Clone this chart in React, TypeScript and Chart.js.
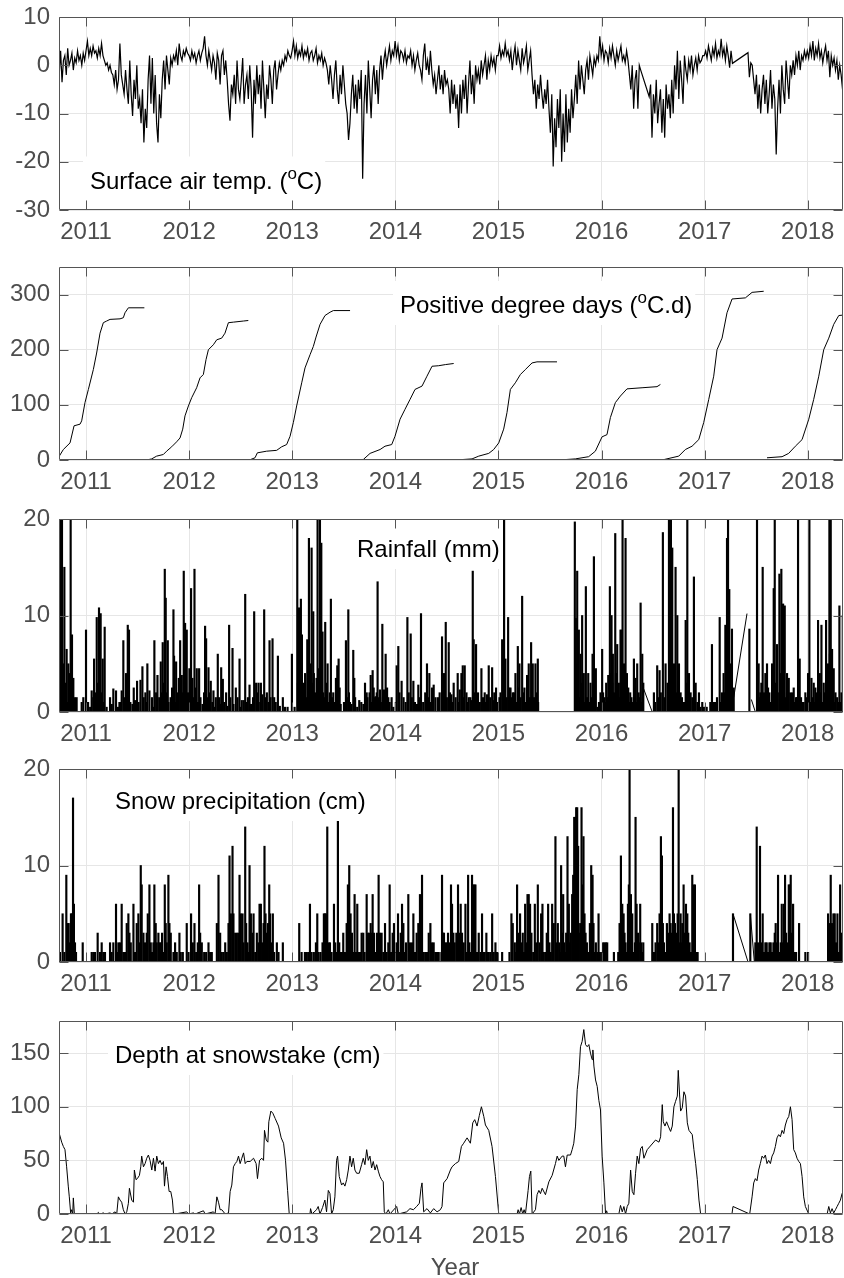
import React, { useEffect, useRef } from "react";
import { Chart, registerables } from "chart.js";

Chart.register(...registerables);

const FONT = '"Liberation Sans", Arial, Helvetica, sans-serif';

// ---------------- axes / ticks ----------------
const YEARS = [2011, 2012, 2013, 2014, 2015, 2016, 2017, 2018];
const X_MIN = 2010.738;
const X_MAX = 2018.342;
const TEMP_TICKS = [-30, -20, -10, 0, 10];
const PDD_TICKS = [0, 100, 200, 300];
const RAIN_TICKS = [0, 10, 20];
const SNOW_TICKS = [0, 10, 20];
const DEPTH_TICKS = [0, 50, 100, 150];

// ---------------- surface air temperature (5-day samples from 2010.740) ----------------
const TEMP_START = 2010.74;
const TEMP_STEP_DAYS = 5;
const temp2010 = [-2, 3, -3.5, 1, 2, -2, 3.5, 0, 1, 2.5, -1, 1.5, 0.5, 3, 1, 2, 0, 2.5, 1];
const temp2011 = [3, 5, 2, 3.5, 2, 4, 2.5, 3, 1.5, 3.5, 2, 4.5,
  2, 1, 0, 0.5, -1, 0, -1.5,
  -2, -4, -1, -5, -3, 4.5, -2, -4, -6, -1,
  -5, -8, 1, -6, -10.5, -3, -7, 0, -9,
  -7, -12, -5, -16, -9, -13,
  -3, 2, -8, 1.5, -10, -2,
  -12, -16, -6, -11,
  -3, 1, -5, 2, -1, -4, 1.5, 0, 2,
  1, 3, 0, 4.5, 2, 1, 3, 2, 3.5, 2.5];
const temp2012 = [2, 1, 3, 1.5, 2.5, 0.5, 2, 3, 1, 2.5, 3.5, 6,
  2, 0, 3, 1, -1, 2, 0.5, -3, 2.5, 1, -4, 2, 3, -2, 1,
  -3, -8, -11.5, -4,
  -6, -2, -8, 1, -5, -7, -3, 1.5, -8, -4, -2, -7, 0, -5,
  -15,
  -3, -8, 0, -6, -2, -9, 1, -5, -11,
  -4, -7, 0, -3, -8, -1, 1, -5, -2, 0.5, -1, 1, 0,
  2, 1, 3, 2, 1.5];
const temp2013 = [3, 5, 2, 4, 1.5, 3,
  2, 4, 1.5, 3, 2, 3.5, 1, 2.5, 3, 1, 2, 3.5, 0.5, 2, 1, 2.5, 0, 1.5, 0.5,
  -1, -4, 0, -3, -7, -2, 1, -5, -8, -2, -6, 0, -4, -8,
  -10, -15.5, -12, -6,
  -2, -9, -4, -10, -3, -7, -1,
  -23.5,
  -8, -2, -10, 1, -5, -11, -3, 0, -6, -1, -8,
  -1, 2, -3, 1, 3, 0, 2, 4, 1, 3, 2];
const temp2014 = [5, 2, 4, 1, 3, 2.5, 1, 3, 0.5, 2, 1.5, 3, 0, 2, -1, 1, 2.5, 0, -1,
  -3, 2, 4.5, -1, 1, -2, 3,
  -1, -4, -2, -6, -3, 0, -5, -2, -6, -1, -4, -3,
  -5, -10, -3, -8, -4, -9, -6, -13, -4, -10, -3, -7,
  -2, -10, -4, 1, -6, -2, -8, 0, -3,
  -1, -4, 1, -2, 0, 2, -3, 1, -1, 2, 0, 1.5, -1, 2];
const temp2015 = [2, 4, 1.5, 3, 2, 4.5, 2, 3, 1,
  3, -1, 2, 4, 0, 3, 1, -1, 3.5, 0.5, 2, 4, -1, 1, 3,
  -2, -6, -3, -9, -4, -7, -2,
  -6, -9, -5, -8, -3,
  -9, -14, -6, -21, -11, -17, -7, -13, -5, -20,
  -10, -18,
  -6, -16, -9, -14, -5, -11, -7,
  -2, -8, 1, -5, 0, -3, -6,
  -1, 1, -3, 2, 0, -2, 1.5, 0, 2, 1, 6];
const temp2016 = [2, 4, 1, 3, 2.5, 0.5, 3.5, 1.5, 4, 2, 0, 3, 1, 2.5, 4, 1, 2, 0.5, 3, 1,
  -2, -5, 0, -9, -3, -1, -9, 0, -1,
  null, null, null, null, null, -6.5,
  -4, -15, -6, -10, -3, -12, -8, -5, -14, -7, -15, -4, -9, -6, -11, -3,
  -10, 0, -5, 3, -7, 1, -3, -8, 2, -1,
  -3, 1, -1, 2, -2, 0, 1.5, -1, 2, 0.5, 1, 2];
const temp2017 = [2, 3, 1.5, 4, 2.5, 1, 3.5, 2, 4.5, 1.5, 3, 2, 5.5, 2, 3.5, 1, 4, 2, -0.5, 3,
  0.4, null, null, null, null, null, null, null, null, null, null, 2.6,
  -2.5, 0.5,
  0, -3, -6, -2, -9, -4, -10, -5, -2, -8, -3, -10, -6, -1, -9, -4, -7,
  -18.5,
  -9, -3, -10, 0, -5, -8, 1, -3, -7, 0, -2,
  1, -2, 2, 0, 3, -1, 2, 1, 3, 1.5];
const temp2018 = [3, 1.5, 4, 2, 5, 1, 3.5, 2, 4.5, 1.5, 3, 0.5, 2.5, 4, 1, 3, -2.5, 2, 0, 1.5,
  -1, 1, -3, 0, -2, -5];

// ---------------- positive degree days ([decimal year, °C.d]) ----------------
const pdd2011 = [[2010.741, 7], [2010.78, 19], [2010.845, 31], [2010.884, 62], [2010.942, 65], [2010.958, 71], [2010.99, 104], [2011.023, 128], [2011.071, 164], [2011.103, 194], [2011.136, 230], [2011.168, 249], [2011.2, 252], [2011.233, 255], [2011.33, 256], [2011.362, 258], [2011.378, 267], [2011.411, 276], [2011.566, 276]];
const pdd2012 = [[2011.588, 0], [2011.637, 2], [2011.685, 7], [2011.75, 10], [2011.782, 16], [2011.831, 24], [2011.879, 33], [2011.912, 40], [2011.938, 56], [2011.96, 80], [2011.993, 98], [2012.025, 113], [2012.073, 131], [2012.106, 149], [2012.138, 155], [2012.164, 182], [2012.187, 200], [2012.235, 209], [2012.268, 218], [2012.316, 221], [2012.348, 230], [2012.381, 249], [2012.429, 250], [2012.526, 252], [2012.574, 253]];
const pdd2013 = [[2012.584, 0], [2012.639, 4], [2012.662, 13], [2012.752, 16], [2012.849, 17.5], [2012.898, 24], [2012.946, 28], [2012.979, 43], [2013.011, 68], [2013.043, 98], [2013.092, 140], [2013.124, 167], [2013.173, 191], [2013.205, 206], [2013.231, 223], [2013.27, 246], [2013.318, 262], [2013.367, 268], [2013.399, 271], [2013.561, 271]];
const pdd2014 = [[2013.583, 0], [2013.69, 1], [2013.755, 12], [2013.852, 19], [2013.9, 25], [2013.965, 28], [2013.997, 43], [2014.046, 74], [2014.094, 92], [2014.143, 110], [2014.191, 128], [2014.259, 134], [2014.307, 152], [2014.356, 170], [2014.421, 171], [2014.485, 173], [2014.566, 175]];
const pdd2015 = [[2014.582, 0], [2014.744, 2], [2014.809, 7], [2014.906, 12], [2014.954, 19], [2015.003, 31], [2015.051, 56], [2015.083, 86], [2015.116, 128], [2015.164, 140], [2015.213, 155], [2015.261, 164], [2015.326, 176], [2015.374, 178], [2015.568, 178]];
const pdd2016 = [[2015.584, 0], [2015.746, 2], [2015.875, 6], [2015.94, 16], [2016.005, 42], [2016.053, 46], [2016.086, 77], [2016.134, 104], [2016.183, 116], [2016.247, 129], [2016.393, 131], [2016.538, 133], [2016.571, 137]];
const pdd2017 = [[2016.587, 0], [2016.749, 7], [2016.813, 19], [2016.878, 25], [2016.943, 37], [2016.991, 68], [2017.04, 110], [2017.088, 152], [2017.12, 200], [2017.169, 221], [2017.217, 267], [2017.266, 292], [2017.395, 294], [2017.46, 304], [2017.573, 306]];
const pdd2018 = [[2017.605, 4], [2017.751, 6], [2017.815, 12], [2017.88, 25], [2017.945, 37], [2018.01, 74], [2018.058, 110], [2018.107, 152], [2018.155, 200], [2018.204, 221], [2018.252, 246], [2018.301, 262], [2018.353, 263]];

// ---------------- rainfall ([fraction of year, mm]) ----------------
const rain2010 = [[0.754, 25], [0.767, 25], [0.79, 15], [0.812, 6.5], [0.828, 5], [0.851, 25], [0.864, 8], [0.877, 3.5], [0.893, 1.5], [0.909, 1.5], [0.958, 1], [0.974, 1.5], [0.76, 1], [0.78, 5], [0.8, 3], [0.82, 1], [0.84, 4], [0.87, 1]];
const rain2011 = [[0, 8.5], [0.055, 2.2], [0.078, 5.5], [0.104, 9.8], [0.126, 10.8], [0.142, 10.2], [0.162, 5.5], [0.181, 8.8], [0.233, 1.5], [0.265, 2.4], [0.291, 2.2], [0.324, 1], [0.346, 2.2], [0.362, 7.4], [0.388, 4], [0.405, 9], [0.417, 8.5], [0.463, 2.5], [0.476, 1.2], [0.495, 3.2], [0.528, 3.3], [0.547, 4.7], [0.576, 2], [0.595, 5], [0.615, 2.2], [0.663, 7.4], [0.693, 3.8], [0.725, 5.2], [0.744, 7.2], [0.764, 14.8], [0.773, 11.8], [0.793, 7.4], [0.848, 10.6], [0.854, 5.8], [0.874, 5.2], [0.913, 7.4], [0.929, 3.8], [0.948, 14.6], [0.961, 9.2], [0.977, 8.5],
  [0.02, 1], [0.04, 0.5], [0.07, 1.5], [0.09, 2], [0.115, 3], [0.135, 4], [0.15, 2], [0.17, 1], [0.2, 0.5], [0.25, 0.8], [0.31, 0.5], [0.335, 1], [0.375, 1.5], [0.395, 2], [0.43, 1], [0.45, 0.8], [0.51, 1], [0.56, 1.5], [0.585, 1], [0.64, 1.5], [0.65, 0.5], [0.68, 2], [0.71, 1.5], [0.735, 2], [0.755, 3], [0.785, 2], [0.8, 1], [0.82, 1.5], [0.835, 2.5], [0.865, 1], [0.89, 2], [0.9, 3.5], [0.92, 1.5], [0.94, 2], [0.955, 3], [0.97, 1.5], [0.99, 2]];
const rain2012 = [[0.003, 4.5], [0.019, 12.8], [0.032, 3.5], [0.052, 14.8], [0.074, 4.5], [0.097, 4.5], [0.155, 8.9], [0.165, 7.6], [0.188, 4.6], [0.21, 3.2], [0.236, 2.2], [0.259, 1.5], [0.278, 6], [0.311, 4.6], [0.327, 3.4], [0.359, 2], [0.388, 9], [0.421, 6.6], [0.453, 2.5], [0.489, 5.5], [0.511, 1.2], [0.544, 12.2], [0.56, 1], [0.586, 2.8], [0.631, 10.4], [0.65, 3], [0.673, 3], [0.696, 3], [0.728, 10.6], [0.754, 2], [0.78, 7.4], [0.809, 7.6], [0.825, 1.5], [0.861, 5.8], [0.909, 1.5], [0.955, 0.5], [0.997, 6],
  [0.01, 2], [0.04, 1.5], [0.06, 2.5], [0.085, 1], [0.11, 1.5], [0.13, 0.8], [0.145, 2], [0.175, 1.5], [0.2, 2], [0.225, 1], [0.25, 0.5], [0.29, 1.5], [0.3, 0.8], [0.34, 1], [0.37, 0.6], [0.4, 1.5], [0.43, 0.8], [0.47, 1.5], [0.5, 0.5], [0.53, 1.2], [0.57, 1.5], [0.6, 0.8], [0.62, 1.5], [0.66, 2], [0.69, 1], [0.71, 1.8], [0.74, 1.5], [0.77, 1], [0.79, 1.5], [0.84, 1], [0.88, 0.6], [0.93, 0.5]];
const rain2013 = [[0.023, 0.5], [0.049, 25], [0.065, 10.8], [0.084, 11.7], [0.094, 8], [0.113, 3], [0.146, 7.5], [0.162, 18], [0.188, 17], [0.204, 10.4], [0.22, 2], [0.236, 3.5], [0.246, 25], [0.259, 4.5], [0.269, 25], [0.282, 17.5], [0.294, 8.3], [0.32, 9.3], [0.343, 5], [0.375, 11.7], [0.398, 2], [0.424, 3.5], [0.437, 4.8], [0.45, 5.5], [0.46, 2.5], [0.502, 1], [0.521, 7.4], [0.544, 10.6], [0.56, 1], [0.592, 6.4], [0.602, 3.5], [0.65, 1.2], [0.706, 3], [0.722, 2], [0.761, 3.8], [0.78, 4.3], [0.809, 1.6], [0.828, 13.5], [0.851, 2.3], [0.874, 9.1], [0.89, 2.3], [0.906, 6], [0.932, 1.5], [0.964, 1.5],
  [0.055, 3], [0.075, 5], [0.105, 2], [0.125, 4], [0.135, 1.5], [0.155, 2], [0.175, 5], [0.195, 3], [0.21, 4], [0.23, 1], [0.25, 2], [0.265, 3], [0.275, 6], [0.3, 2], [0.31, 1.5], [0.33, 3], [0.355, 1], [0.365, 2], [0.385, 1.5], [0.41, 1], [0.445, 1.5], [0.47, 0.8], [0.53, 1.5], [0.55, 2], [0.575, 0.8], [0.61, 1.5], [0.63, 0.5], [0.67, 1], [0.69, 0.8], [0.73, 1.5], [0.75, 2], [0.77, 1], [0.79, 2.5], [0.8, 1.5], [0.82, 2], [0.84, 1.5], [0.86, 1], [0.88, 1.5], [0.9, 1.5], [0.92, 2.5], [0.945, 1], [0.98, 0.5]];
const rain2014 = [[0.013, 4.8], [0.029, 6.8], [0.061, 3.2], [0.117, 9.8], [0.149, 8.1], [0.175, 3.2], [0.223, 2.8], [0.249, 10.2], [0.307, 5], [0.33, 4], [0.356, 2.5], [0.372, 2.8], [0.414, 1.5], [0.453, 7.8], [0.472, 4], [0.489, 9.3], [0.518, 7.2], [0.544, 1.8], [0.566, 3], [0.605, 4], [0.625, 2.3], [0.641, 4], [0.654, 4.8], [0.673, 4.8], [0.712, 1.5], [0.728, 1.5], [0.751, 14.6], [0.76, 7.5], [0.783, 7], [0.802, 2], [0.835, 4.5], [0.867, 2], [0.906, 4.8], [0.939, 4.6], [0.955, 1.2], [0.977, 2.5],
  [0.005, 1], [0.04, 2], [0.08, 1.5], [0.1, 1], [0.13, 2], [0.16, 1.5], [0.19, 1], [0.21, 0.8], [0.24, 1.5], [0.27, 1], [0.29, 2], [0.32, 1.5], [0.345, 1], [0.39, 1.5], [0.43, 2], [0.46, 1], [0.5, 1.5], [0.53, 2], [0.555, 1], [0.585, 1.5], [0.615, 1], [0.66, 1.5], [0.69, 2], [0.7, 1], [0.74, 1.2], [0.77, 2], [0.79, 1.5], [0.82, 1], [0.85, 1.5], [0.88, 1], [0.89, 1.8], [0.92, 1.5], [0.96, 2], [0.99, 1]];
const rain2015 = [[0.01, 1.5], [0.036, 7.5], [0.055, 25], [0.068, 5.5], [0.094, 9.8], [0.117, 2.5], [0.139, 2], [0.165, 4], [0.188, 6.8], [0.204, 5], [0.23, 12], [0.252, 2.5], [0.278, 3.8], [0.294, 5], [0.317, 7.2], [0.333, 5], [0.359, 5], [0.382, 5.5],
  [0.741, 19.7], [0.751, 9.7], [0.764, 14.6], [0.78, 8.5], [0.796, 6], [0.812, 10], [0.828, 4], [0.848, 13], [0.871, 4], [0.893, 3], [0.913, 6], [0.926, 16.1], [0.945, 4.5], [0.99, 2],
  [0.02, 2], [0.045, 3], [0.06, 2], [0.08, 1.5], [0.105, 2.5], [0.125, 1.5], [0.15, 2], [0.175, 1], [0.195, 2.5], [0.215, 1.5], [0.24, 2], [0.265, 1], [0.285, 2], [0.305, 1.5], [0.325, 2.5], [0.345, 1.5], [0.37, 2], [0.385, 1],
  [0.745, 3], [0.755, 5], [0.77, 2], [0.79, 1.5], [0.805, 3], [0.82, 2], [0.835, 1], [0.86, 1.5], [0.88, 1], [0.9, 1.5], [0.935, 1], [0.96, 0.5], [0.975, 1]];
const rain2016 = [[0.006, 6.5], [0.029, 1.5], [0.045, 3], [0.065, 3.8], [0.081, 13], [0.097, 10], [0.11, 6], [0.133, 18.5], [0.152, 7], [0.168, 3], [0.184, 8.5], [0.194, 8.5], [0.204, 25], [0.217, 5], [0.233, 18], [0.246, 4], [0.259, 2.5], [0.278, 2], [0.314, 5.5], [0.33, 3.5], [0.346, 5], [0.369, 1.5], [0.379, 11.3], [0.395, 6], [0.405, 3],
  [0.508, 2], [0.54, 4.8], [0.563, 4.3], [0.595, 18.6], [0.621, 5], [0.654, 25], [0.663, 25], [0.673, 25], [0.686, 17], [0.702, 5], [0.718, 15], [0.735, 10], [0.751, 5], [0.767, 2], [0.816, 9.5], [0.832, 25], [0.848, 4], [0.864, 2], [0.896, 14], [0.913, 3], [0.945, 2], [0.977, 1],
  [0.015, 2], [0.04, 1], [0.055, 1.5], [0.075, 2], [0.09, 4], [0.105, 3], [0.12, 2], [0.14, 4], [0.16, 2], [0.175, 1.5], [0.19, 3], [0.21, 2], [0.225, 4], [0.24, 3], [0.27, 1], [0.29, 1.5], [0.3, 1], [0.32, 2], [0.34, 1], [0.36, 2], [0.385, 1], [0.4, 1.5],
  [0.52, 1], [0.55, 1.5], [0.575, 2], [0.61, 1.5], [0.64, 3], [0.66, 4], [0.68, 5], [0.695, 3], [0.71, 4], [0.725, 2], [0.745, 2], [0.76, 1], [0.78, 1.5], [0.8, 1], [0.825, 3], [0.84, 2], [0.855, 1], [0.88, 1.5], [0.905, 2], [0.93, 1], [0.96, 0.5], [0.99, 0.5]];
const rain2017 = [[0.006, 0.5], [0.055, 1], [0.071, 7], [0.104, 1], [0.146, 9.8], [0.168, 2], [0.184, 4], [0.201, 9], [0.217, 18], [0.227, 25], [0.239, 12.7], [0.249, 5], [0.265, 8.6], [0.282, 2.5], [0.434, 8.6],
  [0.508, 25], [0.524, 5], [0.54, 2], [0.563, 15], [0.589, 4], [0.605, 5], [0.628, 2], [0.654, 5], [0.67, 12.8], [0.68, 25], [0.702, 7], [0.725, 14.3], [0.744, 14.8], [0.761, 11.2], [0.777, 11], [0.799, 4], [0.816, 3.5], [0.848, 2], [0.864, 2.5], [0.887, 1.5], [0.906, 25], [0.922, 5.5], [0.945, 1], [0.977, 2],
  [0.02, 0.5], [0.09, 1], [0.12, 1.5], [0.155, 1], [0.175, 1.5], [0.19, 2], [0.21, 3], [0.235, 4], [0.255, 2], [0.27, 1.5], [0.515, 2], [0.53, 1.5], [0.55, 3], [0.575, 2], [0.595, 1.5], [0.615, 2.5], [0.64, 1], [0.66, 2], [0.69, 3], [0.71, 2], [0.735, 4], [0.75, 3], [0.77, 2], [0.79, 1.5], [0.81, 1], [0.83, 2], [0.87, 1], [0.895, 1.5], [0.915, 2], [0.935, 1.5], [0.96, 1], [0.99, 1.5]];
const rain2018 = [[0.003, 4], [0.016, 25], [0.036, 3.5], [0.058, 3], [0.074, 2.5], [0.1, 9.5], [0.117, 4], [0.133, 9], [0.155, 3], [0.178, 9.5], [0.197, 5], [0.21, 25], [0.223, 25], [0.236, 6.5], [0.252, 4.5], [0.269, 2], [0.285, 1.5], [0.307, 11], [0.327, 2], [0.34, 10],
  [0.01, 2], [0.025, 1], [0.045, 1.5], [0.065, 1], [0.085, 2], [0.11, 1.5], [0.125, 2], [0.145, 1], [0.165, 2], [0.19, 1.5], [0.205, 3], [0.215, 6], [0.23, 4], [0.245, 2], [0.26, 1], [0.295, 1], [0.315, 1], [0.335, 1.5]];
// straight segments drawn across missing rainfall records ([decimal year, mm])
const rainGapLines = [
  [[2016.405, 2.5], [2016.492, 0]],
  [[2017.282, 1.5], [2017.411, 10.2]],
  [[2017.453, 1.3], [2017.492, 0]],
];

// ---------------- snow precipitation ([fraction of year, cm]) ----------------
const snow2010 = [[0.748, 1], [0.773, 5], [0.79, 1], [0.809, 9], [0.822, 4], [0.832, 4], [0.845, 2], [0.854, 5], [0.861, 5], [0.874, 17], [0.883, 6], [0.893, 2], [0.903, 1], [0.968, 2]];
const snow2011 = [[0.055, 1], [0.071, 1], [0.087, 1], [0.113, 3], [0.136, 1], [0.152, 2], [0.168, 1], [0.184, 1], [0.233, 2], [0.249, 1], [0.265, 2], [0.291, 6], [0.304, 1], [0.314, 2], [0.33, 2], [0.346, 6], [0.362, 1], [0.379, 1], [0.395, 4], [0.411, 5], [0.421, 3], [0.434, 2], [0.46, 6], [0.476, 1], [0.492, 4], [0.508, 5], [0.518, 2], [0.531, 10], [0.54, 8], [0.557, 3], [0.573, 2], [0.589, 3], [0.599, 5], [0.615, 8], [0.628, 2], [0.641, 1], [0.654, 2], [0.663, 8], [0.676, 4], [0.686, 2], [0.702, 3], [0.712, 2], [0.725, 2], [0.738, 3], [0.751, 1], [0.764, 8], [0.773, 4], [0.783, 2], [0.799, 9], [0.809, 4], [0.822, 3], [0.848, 1], [0.864, 2], [0.88, 1], [0.906, 3], [0.919, 1], [0.939, 1], [0.977, 4], [0.994, 1]];
const snow2012 = [[0.019, 5], [0.036, 2], [0.052, 4], [0.068, 1], [0.084, 2], [0.097, 8], [0.107, 3], [0.123, 2], [0.146, 1], [0.165, 1], [0.188, 2], [0.204, 1], [0.22, 1], [0.269, 4], [0.285, 9], [0.301, 3], [0.317, 1], [0.333, 1], [0.35, 2], [0.366, 1], [0.382, 4], [0.392, 11], [0.405, 5], [0.421, 12], [0.43, 5], [0.447, 3], [0.463, 3], [0.479, 3], [0.489, 9], [0.502, 5], [0.518, 5], [0.528, 2], [0.544, 14], [0.553, 4], [0.566, 2], [0.576, 1], [0.586, 10], [0.599, 5], [0.615, 3], [0.625, 5], [0.641, 1], [0.657, 3], [0.673, 2], [0.683, 6], [0.696, 6], [0.709, 2], [0.722, 4], [0.731, 12], [0.741, 5], [0.754, 3], [0.764, 4], [0.777, 8], [0.786, 5], [0.803, 2], [0.812, 5], [0.825, 1], [0.851, 2], [0.867, 1], [0.909, 2]];
const snow2013 = [[0.068, 4], [0.091, 1], [0.123, 1], [0.139, 1], [0.155, 1], [0.172, 6], [0.188, 1], [0.21, 1], [0.23, 2], [0.243, 5], [0.256, 1], [0.275, 1], [0.294, 2], [0.307, 5], [0.317, 5], [0.327, 5], [0.34, 14], [0.353, 2], [0.366, 2], [0.382, 1], [0.405, 6], [0.417, 2], [0.43, 1], [0.443, 15], [0.456, 2], [0.469, 1], [0.482, 1], [0.495, 3], [0.511, 1], [0.528, 4], [0.54, 8], [0.553, 10], [0.566, 5], [0.579, 3], [0.592, 1], [0.605, 7], [0.618, 1], [0.631, 6], [0.644, 1], [0.657, 1], [0.673, 3], [0.689, 3], [0.702, 1], [0.722, 7], [0.735, 3], [0.748, 3], [0.761, 4], [0.77, 3], [0.78, 7], [0.793, 3], [0.806, 1], [0.822, 3], [0.838, 9], [0.851, 3], [0.867, 3], [0.883, 1], [0.9, 4], [0.916, 1], [0.932, 2], [0.945, 8], [0.958, 1], [0.974, 3], [0.987, 4]];
const snow2014 = [[0.003, 1], [0.013, 2], [0.026, 5], [0.039, 1], [0.052, 3], [0.065, 6], [0.078, 4], [0.091, 1], [0.104, 2], [0.126, 7], [0.142, 2], [0.162, 2], [0.175, 5], [0.191, 1], [0.207, 3], [0.223, 4], [0.239, 7], [0.249, 3], [0.259, 9], [0.275, 1], [0.291, 1], [0.307, 1], [0.324, 3], [0.34, 4], [0.356, 2], [0.372, 2], [0.388, 1], [0.405, 1], [0.421, 1], [0.447, 1], [0.453, 9], [0.463, 3], [0.472, 3], [0.485, 2], [0.498, 2], [0.511, 3], [0.524, 2], [0.54, 8], [0.55, 6], [0.563, 3], [0.576, 2], [0.592, 3], [0.608, 8], [0.621, 3], [0.634, 6], [0.647, 3], [0.663, 2], [0.68, 6], [0.693, 1], [0.706, 9], [0.718, 2], [0.731, 1], [0.744, 9], [0.754, 8], [0.767, 8], [0.777, 8], [0.793, 1], [0.809, 3], [0.825, 1], [0.841, 5], [0.858, 1], [0.867, 1], [0.883, 3], [0.896, 1], [0.906, 1], [0.922, 1], [0.939, 5], [0.955, 1], [0.971, 2], [0.987, 1]];
const snow2015 = [[0.036, 1], [0.107, 1], [0.126, 5], [0.139, 4], [0.159, 2], [0.172, 1], [0.181, 8], [0.197, 3], [0.21, 5], [0.223, 2], [0.236, 3], [0.249, 1], [0.259, 6], [0.272, 2], [0.282, 7], [0.294, 7], [0.307, 6], [0.32, 3], [0.337, 1], [0.353, 6], [0.366, 2], [0.382, 8], [0.398, 2], [0.414, 5], [0.427, 6], [0.44, 1], [0.456, 1], [0.469, 3], [0.482, 6], [0.495, 2], [0.508, 1], [0.521, 6], [0.537, 4], [0.553, 13], [0.563, 2], [0.576, 4], [0.589, 2], [0.599, 1], [0.608, 10], [0.618, 3], [0.628, 7], [0.638, 2], [0.65, 1], [0.657, 3], [0.67, 13], [0.683, 6], [0.693, 2], [0.702, 3], [0.715, 7], [0.725, 9], [0.735, 15], [0.744, 15], [0.754, 16], [0.764, 16], [0.773, 12], [0.78, 3], [0.793, 4], [0.806, 16], [0.812, 8], [0.825, 13], [0.835, 5], [0.845, 3], [0.858, 2], [0.871, 1], [0.887, 4], [0.9, 10], [0.913, 9], [0.922, 4], [0.935, 1], [0.945, 2], [0.958, 1], [0.971, 5], [0.984, 1]];
const snow2016 = [[0.006, 1], [0.016, 2], [0.029, 2], [0.042, 2], [0.055, 2], [0.12, 1], [0.162, 1], [0.175, 4], [0.188, 11], [0.201, 6], [0.214, 5], [0.223, 3], [0.233, 2], [0.246, 1], [0.256, 6], [0.265, 8], [0.272, 25], [0.285, 7], [0.298, 5], [0.311, 1], [0.324, 2], [0.33, 15], [0.34, 6], [0.353, 3], [0.362, 2], [0.375, 6], [0.385, 2], [0.395, 1], [0.405, 2], [0.492, 4], [0.508, 1], [0.524, 2], [0.54, 4], [0.55, 2], [0.563, 5], [0.576, 13], [0.586, 11], [0.595, 4], [0.605, 2], [0.621, 1], [0.634, 4], [0.647, 3], [0.66, 5], [0.67, 4], [0.68, 3], [0.693, 16], [0.702, 5], [0.712, 4], [0.722, 3], [0.731, 1], [0.738, 5], [0.748, 25], [0.757, 2], [0.767, 5], [0.777, 2], [0.783, 4], [0.796, 8], [0.809, 3], [0.819, 6], [0.832, 5], [0.841, 3], [0.854, 2], [0.867, 1], [0.88, 9], [0.893, 8], [0.906, 8], [0.919, 1], [0.932, 1]];
const snow2017 = [[0.275, 5], [0.443, 5], [0.492, 2], [0.505, 14], [0.518, 2], [0.531, 1], [0.537, 12], [0.55, 2], [0.563, 5], [0.576, 1], [0.589, 2], [0.602, 2], [0.615, 1], [0.628, 2], [0.641, 2], [0.654, 1], [0.667, 2], [0.68, 3], [0.689, 4], [0.699, 2], [0.712, 9], [0.725, 1], [0.738, 2], [0.748, 6], [0.757, 2], [0.77, 6], [0.78, 9], [0.79, 3], [0.803, 2], [0.816, 8], [0.825, 8], [0.835, 9], [0.845, 3], [0.858, 6], [0.874, 1], [0.887, 1], [0.916, 4], [0.977, 1]];
const snow2018 = [[0.003, 1], [0.197, 5], [0.21, 4], [0.223, 9], [0.236, 4], [0.249, 5], [0.262, 5], [0.275, 2], [0.288, 5], [0.301, 1], [0.314, 8], [0.327, 3], [0.34, 3]];
const snowGapLines = [
  [[2017.275, 5], [2017.421, 0]],
  [[2017.443, 5], [2017.482, 0]],
];

// ---------------- depth at snowstake ([fraction of year, cm]) ----------------
const depth2010 = [[0.741, 75], [0.764, 67], [0.78, 63], [0.796, 60], [0.812, 44], [0.828, 26], [0.838, 16], [0.851, 1], [0.861, 4], [0.871, 0], [0.877, 15], [0.887, 0]];
const depth2011 = [[0.104, 0], [0.12, 1.5], [0.136, 0], [0.168, 1], [0.184, 0], [0.233, 1], [0.249, 0], [0.282, 2], [0.298, 0], [0.314, 16], [0.33, 13], [0.346, 11], [0.362, 4], [0.379, 0], [0.395, 2], [0.411, 10], [0.421, 24], [0.443, 13], [0.46, 11], [0.469, 41], [0.485, 32], [0.498, 33], [0.518, 36], [0.531, 44], [0.54, 54], [0.557, 44], [0.573, 47], [0.589, 52], [0.605, 55], [0.621, 50], [0.638, 41], [0.654, 52], [0.67, 40], [0.686, 54], [0.702, 47], [0.718, 50], [0.735, 46], [0.751, 49], [0.761, 26], [0.777, 44], [0.79, 35], [0.806, 21], [0.822, 21], [0.838, 13], [0.848, 1], [0.864, 0], [0.977, 2], [0.994, 0]];
const depth2012 = [[0.042, 1], [0.058, 0], [0.139, 3], [0.155, 0], [0.236, 2], [0.252, 0], [0.269, 16], [0.285, 11], [0.301, 4], [0.317, 4], [0.35, 0], [0.382, 1], [0.398, 21], [0.414, 27], [0.43, 44], [0.447, 47], [0.463, 49], [0.479, 54], [0.495, 47], [0.511, 52], [0.528, 57], [0.544, 47], [0.56, 49], [0.592, 49], [0.625, 52], [0.65, 47], [0.663, 33], [0.683, 50], [0.705, 52], [0.722, 50], [0.731, 78], [0.748, 69], [0.764, 67], [0.773, 86], [0.793, 96], [0.812, 94], [0.835, 89], [0.867, 82], [0.893, 71], [0.916, 66], [0.935, 50], [0.955, 22], [0.971, 0]];
const depth2013 = [[0.172, 0], [0.178, 5], [0.191, 0], [0.236, 4], [0.252, 7], [0.269, 0], [0.294, 6], [0.317, 13], [0.333, 2], [0.35, 22], [0.366, 19], [0.382, 0], [0.398, 4], [0.414, 16], [0.43, 50], [0.44, 54], [0.456, 35], [0.479, 27], [0.495, 29], [0.511, 26], [0.528, 32], [0.544, 41], [0.56, 54], [0.576, 44], [0.592, 52], [0.608, 41], [0.625, 38], [0.65, 38], [0.673, 46], [0.689, 52], [0.705, 46], [0.722, 60], [0.738, 50], [0.754, 54], [0.77, 43], [0.786, 49], [0.803, 41], [0.819, 46], [0.835, 40], [0.851, 35], [0.867, 32], [0.883, 30], [0.893, 2], [0.909, 0], [0.932, 4], [0.948, 0]];
const depth2014 = [[0.013, 7], [0.029, 0], [0.11, 2], [0.142, 5], [0.175, 4], [0.207, 7], [0.233, 10], [0.249, 24], [0.259, 29], [0.275, 2], [0.307, 5], [0.34, 1], [0.372, 5], [0.405, 2], [0.437, 4], [0.453, 7], [0.469, 29], [0.502, 33], [0.534, 41], [0.55, 44], [0.583, 47], [0.615, 49], [0.641, 63], [0.663, 66], [0.696, 71], [0.728, 66], [0.751, 85], [0.77, 88], [0.793, 82], [0.815, 92], [0.835, 100], [0.858, 91], [0.874, 83], [0.906, 78], [0.938, 63], [0.971, 35]];
const depth2015 = [[0.003, 0], [0.181, 0], [0.191, 4], [0.204, 0], [0.22, 6], [0.236, 0], [0.249, 4], [0.262, 0], [0.288, 22], [0.301, 35], [0.314, 40], [0.327, 0], [0.359, 4], [0.375, 18], [0.392, 22], [0.408, 19], [0.424, 24], [0.456, 18], [0.489, 30], [0.521, 36], [0.553, 47], [0.57, 54], [0.586, 50], [0.618, 54], [0.634, 54], [0.65, 44], [0.667, 55], [0.699, 55], [0.715, 60], [0.731, 66], [0.748, 82], [0.764, 116], [0.78, 130], [0.796, 156], [0.812, 161], [0.828, 172], [0.845, 158], [0.861, 156], [0.877, 158], [0.893, 150], [0.909, 144], [0.916, 153], [0.926, 138], [0.942, 125], [0.958, 119], [0.974, 106], [0.99, 97]];
const depth2016 = [[0.006, 54], [0.023, 29], [0.039, 0], [0.049, 3], [0.058, 0], [0.168, 0], [0.184, 8], [0.201, 2], [0.217, 7], [0.233, 0], [0.249, 7], [0.265, 10], [0.282, 41], [0.298, 21], [0.314, 18], [0.33, 38], [0.346, 54], [0.362, 47], [0.379, 61], [0.395, 63], [0.411, 52], [0.443, 60], [0.524, 69], [0.557, 67], [0.573, 72], [0.589, 102], [0.599, 86], [0.615, 82], [0.631, 86], [0.647, 82], [0.67, 77], [0.686, 82], [0.702, 100], [0.718, 105], [0.735, 110], [0.744, 134], [0.757, 111], [0.767, 96], [0.783, 99], [0.799, 114], [0.815, 110], [0.832, 85], [0.848, 78], [0.88, 74], [0.896, 60], [0.913, 47], [0.929, 32], [0.945, 13], [0.961, 0]];
const depth2017 = [[0.265, 0], [0.275, 7], [0.437, 0], [0.46, 16], [0.476, 29], [0.492, 33], [0.508, 31], [0.524, 41], [0.54, 47], [0.557, 54], [0.573, 52], [0.589, 55], [0.605, 47], [0.621, 50], [0.638, 47], [0.654, 54], [0.67, 57], [0.686, 63], [0.702, 71], [0.718, 74], [0.735, 72], [0.751, 78], [0.767, 75], [0.783, 83], [0.799, 88], [0.816, 91], [0.832, 100], [0.848, 88], [0.864, 60], [0.88, 57], [0.896, 52], [0.913, 49], [0.929, 47], [0.945, 35], [0.961, 16], [0.977, 7]];
const depth2018 = [[0.01, 0], [0.188, 0], [0.204, 7], [0.22, 1], [0.236, 5], [0.252, 1], [0.269, 4], [0.285, 7], [0.301, 10], [0.317, 13], [0.333, 19], [0.353, 22]];

// ---------------- helpers ----------------
type Pt = { x: number; y: number | null };
const byYear = (year: number, rows: number[][]): Pt[] => rows.map(([f, v]) => ({ x: year + f, y: v }));
const absPts = (rows: number[][]): Pt[] => rows.map(([x, v]) => ({ x, y: v }));

const TEMP_SERIES = [...temp2010, ...temp2011, ...temp2012, ...temp2013, ...temp2014, ...temp2015, ...temp2016, ...temp2017, ...temp2018];
const tempPoints: Pt[] = TEMP_SERIES.map((v, i) => ({ x: TEMP_START + (i * TEMP_STEP_DAYS) / 365.25, y: v }));

const RAIN_YEARS: [number, number[][]][] = [[2010, rain2010], [2011, rain2011], [2012, rain2012], [2013, rain2013], [2014, rain2014], [2015, rain2015], [2016, rain2016], [2017, rain2017], [2018, rain2018]];
const SNOW_YEARS: [number, number[][]][] = [[2010, snow2010], [2011, snow2011], [2012, snow2012], [2013, snow2013], [2014, snow2014], [2015, snow2015], [2016, snow2016], [2017, snow2017], [2018, snow2018]];
const DEPTH_YEARS: [number, number[][]][] = [[2010, depth2010], [2011, depth2011], [2012, depth2012], [2013, depth2013], [2014, depth2014], [2015, depth2015], [2016, depth2016], [2017, depth2017], [2018, depth2018]];
const PDD_SEASONS = [pdd2011, pdd2012, pdd2013, pdd2014, pdd2015, pdd2016, pdd2017, pdd2018];

const lineDs = (data: Pt[], extra: any = {}) => ({
  type: "line",
  data,
  borderColor: "#000",
  borderWidth: 1,
  pointRadius: 0,
  tension: 0,
  fill: false,
  ...extra,
});
const barDs = (data: Pt[]) => ({
  type: "bar",
  data,
  backgroundColor: "#000",
  borderWidth: 0,
  barThickness: 1.5,
  grouped: false,
});

// ---------------- panel layout ----------------
const PAD_TOP = 15;
const PLOT_H = 193;
const XAXIS_H = 40;
const TICK_COLOR = "#4d4d4d";
const FRAME_COLOR = "#555555";
const GRID_COLOR = "#e6e6e6";

type LabelPart = [string, boolean];
type PanelSpec = {
  id: string;
  chartType: "line" | "bar";
  plotTop: number;
  yMin: number;
  yMax: number;
  yTicks: number[];
  label: { parts: LabelPart[]; x: number; baseline: number };
  datasets: any[];
  extraBottom: number;
  showYear?: boolean;
};

const PANELS: PanelSpec[] = [
  {
    id: "temp", chartType: "line", plotTop: 17, yMin: -30, yMax: 10, yTicks: TEMP_TICKS,
    label: { parts: [["Surface air temp. (", false], ["o", true], ["C)", false]], x: 90, baseline: 188.5 },
    datasets: [lineDs(tempPoints, { spanGaps: true, borderWidth: 1.2 })], extraBottom: 0,
  },
  {
    id: "pdd", chartType: "line", plotTop: 267, yMin: 0, yMax: 350, yTicks: PDD_TICKS,
    label: { parts: [["Positive degree days (", false], ["o", true], ["C.d)", false]], x: 400, baseline: 313 },
    datasets: PDD_SEASONS.map((s) => lineDs(absPts(s))), extraBottom: 0,
  },
  {
    id: "rain", chartType: "bar", plotTop: 519, yMin: 0, yMax: 20, yTicks: RAIN_TICKS,
    label: { parts: [["Rainfall (mm)", false]], x: 357, baseline: 557 },
    datasets: [barDs(RAIN_YEARS.flatMap(([y, r]) => byYear(y, r))), ...rainGapLines.map((s) => lineDs(absPts(s)))],
    extraBottom: 0,
  },
  {
    id: "snow", chartType: "bar", plotTop: 769, yMin: 0, yMax: 20, yTicks: SNOW_TICKS,
    label: { parts: [["Snow precipitation (cm)", false]], x: 115, baseline: 809 },
    datasets: [barDs(SNOW_YEARS.flatMap(([y, r]) => byYear(y, r))), ...snowGapLines.map((s) => lineDs(absPts(s)))],
    extraBottom: 0,
  },
  {
    id: "depth", chartType: "line", plotTop: 1021, yMin: 0, yMax: 180, yTicks: DEPTH_TICKS,
    label: { parts: [["Depth at snowstake (cm)", false]], x: 115, baseline: 1063 },
    datasets: [lineDs(DEPTH_YEARS.flatMap(([y, r]) => byYear(y, r)))], extraBottom: 30, showYear: true,
  },
];

const MAIN_FONT = `24px ${FONT}`;
const SUP_FONT = `17px ${FONT}`;

function makeConfig(spec: PanelSpec, canvasTop: number): any {
  const framePlugin = {
    id: "matlabFrame",
    afterDatasetsDraw(chart: any) {
      const ctx = chart.ctx;
      const base = spec.label.baseline - canvasTop;
      ctx.save();
      let w = 0;
      for (const [t, sup] of spec.label.parts) {
        ctx.font = sup ? SUP_FONT : MAIN_FONT;
        w += ctx.measureText(t).width;
      }
      ctx.fillStyle = "#ffffff";
      ctx.fillRect(spec.label.x - 7, base - 32, w + 10, 44);
      ctx.fillStyle = "#000000";
      ctx.textBaseline = "alphabetic";
      ctx.textAlign = "left";
      let cx = spec.label.x;
      for (const [t, sup] of spec.label.parts) {
        ctx.font = sup ? SUP_FONT : MAIN_FONT;
        ctx.fillText(t, cx, sup ? base - 10 : base);
        cx += ctx.measureText(t).width;
      }
      ctx.restore();
    },
    afterDraw(chart: any) {
      const { ctx, chartArea: a, scales } = chart;
      ctx.save();
      ctx.strokeStyle = FRAME_COLOR;
      ctx.lineWidth = 1;
      const L = Math.round(a.left) + 0.5;
      const R = Math.round(a.right) - 0.5;
      const T = Math.round(a.top) + 0.5;
      const B = Math.round(a.bottom) - 0.5;
      ctx.beginPath();
      ctx.rect(L, T, R - L, B - T);
      for (const t of scales.x.ticks) {
        const px = Math.round(scales.x.getPixelForValue(t.value)) + 0.5;
        ctx.moveTo(px, B);
        ctx.lineTo(px, B - 9);
        ctx.moveTo(px, T);
        ctx.lineTo(px, T + 9);
      }
      for (const t of scales.y.ticks) {
        const py = Math.round(scales.y.getPixelForValue(t.value)) + 0.5;
        ctx.moveTo(L, py);
        ctx.lineTo(L + 9, py);
        ctx.moveTo(R, py);
        ctx.lineTo(R - 9, py);
      }
      ctx.stroke();
      if (spec.showYear) {
        ctx.fillStyle = TICK_COLOR;
        ctx.font = `24px ${FONT}`;
        ctx.textAlign = "center";
        ctx.textBaseline = "middle";
        ctx.fillText("Year", (a.left + a.right) / 2 + 4, 1268 - canvasTop);
      }
      ctx.restore();
    },
  };

  return {
    type: spec.chartType,
    data: { datasets: spec.datasets },
    options: {
      animation: false,
      responsive: false,
      maintainAspectRatio: false,
      events: [],
      layout: { padding: { top: PAD_TOP, right: 1, bottom: spec.extraBottom, left: 0 } },
      plugins: { legend: { display: false }, tooltip: { enabled: false }, title: { display: false } },
      scales: {
        x: {
          type: "linear",
          min: X_MIN,
          max: X_MAX,
          offset: false,
          afterFit: (s: any) => {
            s.height = XAXIS_H;
            s.paddingLeft = 0;
            s.paddingRight = 0;
            s.paddingTop = 0;
            s.paddingBottom = 0;
          },
          afterBuildTicks: (s: any) => { s.ticks = YEARS.map((v) => ({ value: v })); },
          ticks: {
            callback: (v: any) => String(v),
            font: { family: FONT, size: 24 },
            color: TICK_COLOR,
            padding: 8,
            maxRotation: 0,
            minRotation: 0,
            autoSkip: false,
            includeBounds: false,
          },
          grid: { color: GRID_COLOR, lineWidth: 1, drawTicks: false, offset: false },
          border: { display: false },
        },
        y: {
          type: "linear",
          min: spec.yMin,
          max: spec.yMax,
          afterFit: (s: any) => {
            s.width = 59;
            s.paddingTop = 0;
            s.paddingBottom = 0;
            s.paddingLeft = 0;
            s.paddingRight = 0;
          },
          afterBuildTicks: (s: any) => { s.ticks = spec.yTicks.map((v) => ({ value: v })); },
          ticks: {
            callback: (v: any) => String(v),
            font: { family: FONT, size: 24 },
            color: TICK_COLOR,
            padding: 9,
            includeBounds: false,
          },
          grid: { color: GRID_COLOR, lineWidth: 1, drawTicks: false },
          border: { display: false },
        },
      },
    },
    plugins: [framePlugin],
  };
}

function Panel({ spec }: { spec: PanelSpec }) {
  const ref = useRef<HTMLCanvasElement | null>(null);
  const canvasTop = spec.plotTop - PAD_TOP;
  const height = PAD_TOP + PLOT_H + XAXIS_H + spec.extraBottom;
  useEffect(() => {
    if (!ref.current) return;
    const chart = new Chart(ref.current, makeConfig(spec, canvasTop));
    return () => chart.destroy();
  }, []);
  return (
    <canvas
      ref={ref}
      width={844}
      height={height}
      style={{ position: "absolute", left: 0, top: canvasTop, width: 844, height, display: "block" }}
    />
  );
}

export default function App() {
  return (
    <div style={{ position: "absolute", left: 0, top: 0, width: 844, height: 1278, background: "#ffffff", overflow: "hidden" }}>
      {PANELS.map((p) => (
        <Panel key={p.id} spec={p} />
      ))}
    </div>
  );
}
